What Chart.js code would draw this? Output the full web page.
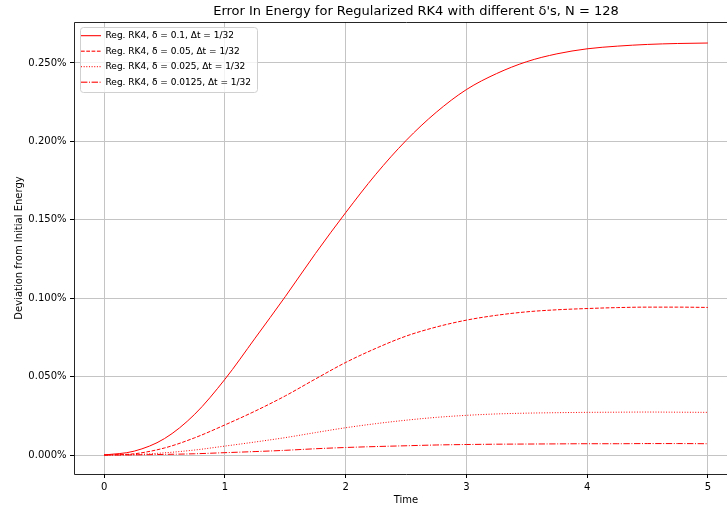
<!DOCTYPE html>
<html>
<head>
<meta charset="utf-8">
<script src="https://cdn.jsdelivr.net/npm/chart.js@4.4.1/dist/chart.umd.min.js"></script>
<style>
html,body{margin:0;padding:0;overflow:hidden;background:#fff;}
#wrap{width:760px;height:508px;}
</style>
</head>
<body>
<div id="wrap"><canvas id="c" width="760" height="508"></canvas></div>
<script>
// ---- data (deviation from initial energy, in percent) ----
const times = [0,0.25,0.5,0.75,1,1.25,1.5,1.75,2,2.25,2.5,2.75,3,3.25,3.5,3.75,4,4.25,4.5,4.75,5];
const devDelta0100 = [0,0.0025,0.0105,0.026,0.0483,0.0745,0.101,0.1285,0.1545,0.179,0.2005,0.2185,0.2330,0.2432,0.2508,0.2558,0.2590,0.2607,0.2618,0.2624,0.2627];
const devDelta0050 = [0,0.0008,0.0045,0.011,0.0192,0.028,0.0377,0.0485,0.0590,0.068,0.0758,0.0816,0.0860,0.0891,0.0913,0.0926,0.0934,0.0940,0.0943,0.0943,0.0941];
const devDelta0025 = [0,0.0003,0.0014,0.0032,0.0057,0.0083,0.0111,0.0143,0.0174,0.0200,0.0222,0.0240,0.0253,0.0262,0.0267,0.0270,0.0272,0.0273,0.0274,0.0273,0.0272];
const devDelta0125 = [0,0.0001,0.0004,0.0008,0.0015,0.0022,0.0030,0.0040,0.0048,0.0054,0.0059,0.0064,0.0067,0.0069,0.0070,0.0071,0.0072,0.0072,0.0073,0.0073,0.0072];
const seriesLabels = [
  "Reg. RK4, δ = 0.1, Δt = 1/32",
  "Reg. RK4, δ = 0.05, Δt = 1/32",
  "Reg. RK4, δ = 0.025, Δt = 1/32",
  "Reg. RK4, δ = 0.0125, Δt = 1/32"
];
const xTicks = [0,1,2,3,4,5];
const yTicks = [0,0.05,0.1,0.15,0.2,0.25];
const xRange = [-0.25, 5.25];
const yRange = [-0.0121, 0.2761];
const chartTitle = "Error In Energy for Regularized RK4 with different δ's, N = 128";
const xTitle = "Time";
const yTitle = "Deviation from Initial Energy";

// ---- rendering ----
Chart.defaults.font.family = "'DejaVu Sans', 'Liberation Sans', sans-serif";
Chart.defaults.color = '#000';

const seriesValues = [devDelta0100, devDelta0050, devDelta0025, devDelta0125];
const dashes = [[], [3.7, 1.6], [1, 1.65], [6.4, 1.6, 1, 1.6]];
const datasets = seriesValues.map((vals, k) => ({
  label: seriesLabels[k],
  data: times.map((t, i) => ({x: t, y: vals[i]})),
  borderColor: '#ff0000',
  backgroundColor: '#ff0000',
  borderWidth: 1,
  borderDash: dashes[k],
  pointRadius: 0,
  fill: false,
  cubicInterpolationMode: 'monotone'
}));

function align(v){ return Math.round(v - 0.5) + 0.5; }

const decor = {
  id: 'decor',
  afterUpdate(chart) {
    const lg = chart.legend, a = chart.chartArea;
    if (chart.titleBlock) {
      chart.titleBlock.left += 10;
      chart.titleBlock.right += 10;
    }
    if (!lg) return;
    lg.left = a.left + 0.5;
    lg.top = a.top + 2.7;
    lg.right = a.right;
    lg.bottom = a.bottom;
    lg.fit();
    lg.right = a.right;
    lg.bottom = a.bottom;
    lg.adjustHitBoxes();
  },
  afterDatasetsDraw(chart) {
    const {ctx, chartArea: a} = chart;
    const lg = chart.legend;
    if (lg && lg.legendHitBoxes && lg.legendHitBoxes.length) {
      const hb = lg.legendHitBoxes;
      let r = 0;
      hb.forEach(h => { r = Math.max(r, h.left + h.width); });
      const last = hb[hb.length - 1];
      const x0 = Math.round(a.left + 6) + 0.5, y0 = Math.round(a.top + 5) + 0.5;
      const x1 = Math.round(r + 6) + 0.5, y1 = Math.round(last.top + last.height + 5.5) + 0.5;
      const rad = 3;
      ctx.save();
      ctx.beginPath();
      ctx.moveTo(x0 + rad, y0);
      ctx.lineTo(x1 - rad, y0);
      ctx.arcTo(x1, y0, x1, y0 + rad, rad);
      ctx.lineTo(x1, y1 - rad);
      ctx.arcTo(x1, y1, x1 - rad, y1, rad);
      ctx.lineTo(x0 + rad, y1);
      ctx.arcTo(x0, y1, x0, y1 - rad, rad);
      ctx.lineTo(x0, y0 + rad);
      ctx.arcTo(x0, y0, x0 + rad, y0, rad);
      ctx.closePath();
      ctx.fillStyle = 'rgba(255,255,255,0.8)';
      ctx.fill();
      ctx.strokeStyle = '#d0d0d0';
      ctx.lineWidth = 1;
      ctx.stroke();
      ctx.restore();
      lg.draw();
    }
    // spines
    ctx.save();
    ctx.strokeStyle = 'rgba(0,0,0,0.85)';
    ctx.lineWidth = 1;
    const l = align(a.left), t = align(a.top), rr = align(a.right), b = align(a.bottom);
    ctx.beginPath();
    ctx.moveTo(l, b); ctx.lineTo(l, t); ctx.lineTo(rr, t); ctx.lineTo(rr, b); ctx.closePath();
    ctx.stroke();
    ctx.restore();
  }
};

new Chart(document.getElementById('c'), {
  type: 'line',
  data: { datasets },
  options: {
    responsive: false,
    animation: false,
    devicePixelRatio: 1,
    layout: { padding: { left: 0, right: 22, top: 0, bottom: 0 } },
    scales: {
      x: {
        type: 'linear',
        min: xRange[0], max: xRange[1],
        afterBuildTicks: s => { s.ticks = xTicks.map(v => ({value: v})); },
        afterFit: s => { s.height = 34; },
        grid: { color: '#c4c4c4', lineWidth: 1, tickColor: '#000', tickLength: 4, tickWidth: 1 },
        border: { display: false },
        ticks: { padding: 3.5, font: { size: 10 }, color: '#000', maxRotation: 0, autoSkip: false, callback: v => String(v) },
        title: { display: true, text: xTitle, font: { size: 10 }, color: '#000', padding: { top: 0, bottom: 2 } }
      },
      y: {
        type: 'linear',
        min: yRange[0], max: yRange[1],
        afterBuildTicks: s => { s.ticks = yTicks.map(v => ({value: v})); },
        afterFit: s => { s.width = 74; },
        grid: { color: '#c4c4c4', lineWidth: 1, tickColor: '#000', tickLength: 4, tickWidth: 1 },
        border: { display: false },
        ticks: { padding: 3.5, font: { size: 10 }, color: '#000', autoSkip: false, callback: v => Number(v).toFixed(3) + '%' },
        title: { display: true, text: yTitle, font: { size: 10 }, color: '#000', padding: { top: 13, bottom: 0 } }
      }
    },
    plugins: {
      title: { display: true, text: chartTitle, fullSize: false, font: { size: 13, weight: 'normal' }, color: '#000', padding: { top: 4.2, bottom: 2.2 } },
      legend: {
        display: true,
        position: 'chartArea',
        align: 'start',
        labels: {
          usePointStyle: true, pointStyle: 'line', pointStyleWidth: 20,
          font: { size: 9 }, color: '#000', padding: 6.5,
          generateLabels: (chart) => {
            const items = Chart.defaults.plugins.legend.labels.generateLabels(chart);
            items.forEach(it => {
              const ds = chart.data.datasets[it.datasetIndex];
              it.lineDash = ds.borderDash;
              it.lineWidth = ds.borderWidth;
              it.strokeStyle = ds.borderColor;
              it.pointStyle = 'line';
            });
            return items;
          }
        }
      },
      tooltip: { enabled: false }
    }
  },
  plugins: [decor]
});
</script>
</body>
</html>
